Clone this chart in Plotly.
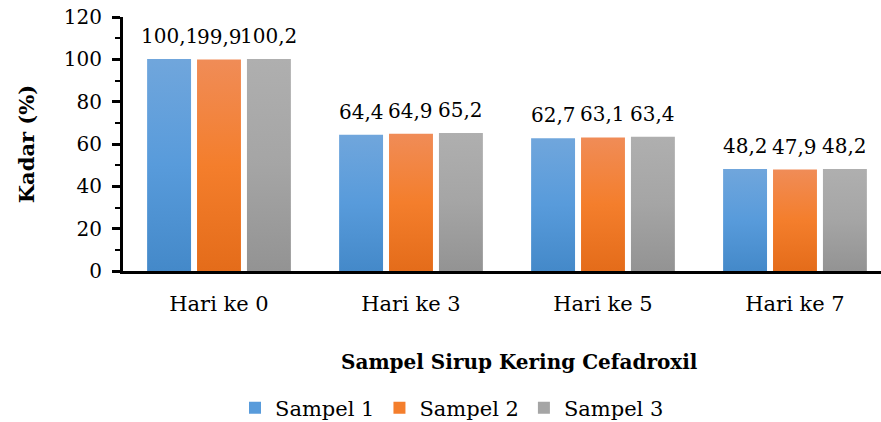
import plotly.graph_objects as go

# Cefadroxil dry syrup assay (%) per storage day
categories = ["Hari ke 0", "Hari ke 3", "Hari ke 5", "Hari ke 7"]
sampel_1 = [100.1, 64.4, 62.7, 48.2]
sampel_2 = [99.9, 64.9, 63.1, 47.9]
sampel_3 = [100.2, 65.2, 63.4, 48.2]
series_names = ["Sampel 1", "Sampel 2", "Sampel 3"]
series_values = [sampel_1, sampel_2, sampel_3]

# bar shading: (bottom, middle, top) colour of each series' vertical gradient
series_gradients = [
    ("#4489c9", "#589bdb", "#70a6dc"),
    ("#e46c1a", "#f47e2c", "#f08c57"),
    ("#939393", "#a5a5a5", "#afafaf"),
]

FONT = "DejaVu Serif"
BARGAP = 0.22
BARGROUPGAP = 0.12
WIDTH, HEIGHT = 881, 422
M_L, M_R, M_T, M_B = 123, 0, 17, 151
X_RANGE = [-0.5, 3.448]

n_series = len(series_names)
slot = (1 - BARGAP) / n_series          # width of one bar slot, in category units
bar_w = slot * (1 - BARGROUPGAP)        # drawn bar width, in category units

fig = go.Figure()
for j, (name, vals, (c_bot, c_mid, c_top)) in enumerate(
        zip(series_names, series_values, series_gradients)):
    # legend entry for the series
    fig.add_trace(go.Bar(
        x=[None], y=[None], name=name, legendgroup=name,
        marker=dict(color=c_mid, line=dict(width=0)),
    ))
    for i, v in enumerate(vals):
        centre = i + (j - (n_series - 1) / 2) * slot
        x0, x1 = centre - bar_w / 2, centre + bar_w / 2
        fig.add_trace(go.Scatter(
            x=[x0, x0, x1, x1, x0], y=[0, v, v, 0, 0],
            mode="lines", line=dict(width=0), fill="toself",
            fillgradient=dict(type="vertical", start=0, stop=v,
                              colorscale=[[0, c_bot], [0.5, c_mid], [1, c_top]]),
            legendgroup=name, showlegend=False, hoverinfo="skip",
        ))
        fig.add_annotation(
            x=centre, y=v, xref="x", yref="y",
            text=f"{v:.1f}".replace(".", ","),
            showarrow=False, xanchor="center", yanchor="bottom", yshift=9,
            font=dict(family=FONT, size=20, color="#000000"),
        )

fig.update_layout(
    width=WIDTH, height=HEIGHT,
    margin=dict(l=M_L, r=M_R, t=M_T, b=M_B, autoexpand=False),
    paper_bgcolor="white", plot_bgcolor="white",
    separators=",.",
    barmode="group",
    font=dict(family=FONT, size=20, color="#000000"),
    showlegend=True,
    legend=dict(orientation="h", xref="container", yref="container",
                x=452 / WIDTH, xanchor="center", y=1 - 408 / HEIGHT, yanchor="middle",
                font=dict(family=FONT, size=21), itemwidth=30, tracegroupgap=0,
                bgcolor="rgba(0,0,0,0)", groupclick="togglegroup"),
)

fig.update_xaxes(
    range=X_RANGE, tickvals=list(range(len(categories))), ticktext=categories,
    showline=True, linecolor="#000000", linewidth=3,
    ticks="", tickfont=dict(family=FONT, size=21), ticklabelstandoff=12,
    showgrid=False, zeroline=False, automargin=False,
)
fig.update_yaxes(
    range=[0, 120], dtick=20, showline=True, linecolor="#000000", linewidth=3,
    ticks="outside", ticklen=8, tickwidth=2.5, tickcolor="#000000",
    minor=dict(dtick=10, ticks="outside", ticklen=5, tickwidth=2, tickcolor="#000000", showgrid=False),
    tickfont=dict(family=FONT, size=20), ticklabelstandoff=6,
    showgrid=False, zeroline=False, automargin=False,
    title=dict(text="<b>Kadar (%)</b>", font=dict(family=FONT, size=21), standoff=24),
)

fig.add_annotation(
    text="<b>Sampel Sirup Kering Cefadroxil</b>", xref="paper", yref="paper",
    x=(519 - M_L) / (WIDTH - M_L - M_R), y=-(362 - 271) / 254,
    xanchor="center", yanchor="middle",
    showarrow=False, font=dict(family=FONT, size=20),
)

fig.write_html("out.html")
